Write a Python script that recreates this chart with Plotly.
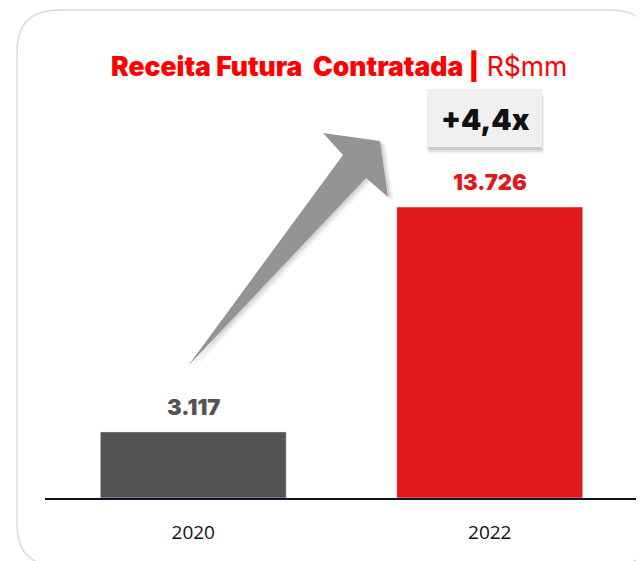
import plotly.graph_objects as go

# data
years = ["2020", "2022"]
values = [3117, 13726]
value_labels = ["3.117", "13.726"]
bar_colors = ["#545456", "#E0191B"]
label_colors = ["#545456", "#E0191B"]
growth_label = "+4,4x"

OFF = 8                          # default body margin of the page
W, H = 644 - OFF, 561 - OFF
L, R, T, B = 45, 638, 100, 498   # plot area in window pixels
HEAVY = "Inter"


def px(x, y):
    """window pixel position -> paper coords"""
    return (x - L) / (R - L), (B - y) / (B - T)


def path(points):
    parts = []
    for i, (x, y) in enumerate(points):
        u, v = px(x, y)
        parts.append(("M" if i == 0 else "L") + f"{u:.4f},{v:.4f}")
    return " ".join(parts) + " Z"


fig = go.Figure(go.Bar(
    x=years, y=values,
    marker_color=bar_colors,
    width=0.627,
    hoverinfo="skip",
))

shapes = []


def rounded_card(x0, y0, x1, y1, r):
    a0, b0 = px(x0, y0)
    a1, b1 = px(x1, y1)
    rx = r / (R - L)
    ry = r / (B - T)
    return (f"M{a0 + rx:.4f},{b0:.4f} L{a1 - rx:.4f},{b0:.4f} "
            f"Q{a1:.4f},{b0:.4f} {a1:.4f},{b0 - ry:.4f} "
            f"L{a1:.4f},{b1 + ry:.4f} Q{a1:.4f},{b1:.4f} {a1 - rx:.4f},{b1:.4f} "
            f"L{a0 + rx:.4f},{b1:.4f} Q{a0:.4f},{b1:.4f} {a0:.4f},{b1 + ry:.4f} "
            f"L{a0:.4f},{b0 - ry:.4f} Q{a0:.4f},{b0:.4f} {a0 + rx:.4f},{b0:.4f} Z")


# card outline
shapes.append(dict(type="path", xref="paper", yref="paper",
                   path=rounded_card(17, 10, 652, 566, 42),
                   line=dict(color="#DCDCDC", width=1.5), layer="below"))

# growth arrow: soft shadow layers then body
arrow = [(188, 366), (343, 155), (323, 133), (380, 141), (388, 197), (366, 178)]
for d, a in [(6, 0.04), (4, 0.06), (2, 0.08)]:
    sh = [(x + d, y + d * 0.6) for x, y in arrow]
    shapes.append(dict(type="path", xref="paper", yref="paper", path=path(sh),
                       fillcolor=f"rgba(0,0,0,{a})", line=dict(width=0)))
shapes.append(dict(type="path", xref="paper", yref="paper", path=path(arrow),
                   fillcolor="#949396", line=dict(width=0)))

# multiplier box with soft shadow
for dx, dy, col in [(2, 7, "rgba(0,0,0,0.05)"), (1, 5, "rgba(0,0,0,0.07)"), (0, 3, "rgba(0,0,0,0.09)")]:
    u0, v0 = px(427 + dx, 89 + dy)
    u1, v1 = px(542 + dx, 147 + dy)
    shapes.append(dict(type="rect", xref="paper", yref="paper",
                       x0=u0, y0=v0, x1=u1, y1=v1,
                       fillcolor=col, line=dict(width=0)))
u0, v0 = px(427, 89)
u1, v1 = px(542, 147)
shapes.append(dict(type="rect", xref="paper", yref="paper",
                   x0=u0, y0=v0, x1=u1, y1=v1,
                   fillcolor="#F0F0F0", line=dict(width=0)))

annotations = []
for i, (v, lab, c) in enumerate(zip(values, value_labels, label_colors)):
    annotations.append(dict(x=i, y=v, xref="x", yref="y", text=lab,
                            showarrow=False, xanchor="center", yanchor="bottom", yshift=10,
                            font=dict(family=HEAVY, size=22, color=c, weight=900)))

bx, by = px(485, 119)
annotations.append(dict(x=bx, y=by, xref="paper", yref="paper", text=growth_label,
                        showarrow=False, xanchor="center", yanchor="middle",
                        font=dict(family=HEAVY, size=29, color="#111111", weight=900)))

tx, ty = px(339, 66)
annotations.append(dict(x=tx, y=ty, xref="paper", yref="paper",
                        text='<span style="font-weight:900">Receita Futura&nbsp; Contratada |</span> R$mm',
                        showarrow=False, xanchor="center", yanchor="middle",
                        font=dict(family=HEAVY, size=26.5, color="#FF0000", weight=400)))

fig.update_layout(
    width=W, height=H,
    margin=dict(l=L - OFF, r=644 - R, t=T - OFF, b=561 - B, pad=0),
    plot_bgcolor="white", paper_bgcolor="white",
    showlegend=False,
    shapes=shapes,
    annotations=annotations,
    xaxis=dict(type="category", showline=True, linecolor="#0D1526", linewidth=2,
               ticks="", ticklabelstandoff=16,
               tickfont=dict(family="Open Sans", size=19, color="#111111"),
               range=[-0.5, 1.5], fixedrange=True),
    yaxis=dict(visible=False, range=[0, 13726 * (B - T) / 291], showgrid=False,
               fixedrange=True),
)

fig.write_html("out.html", config={"displayModeBar": False})
